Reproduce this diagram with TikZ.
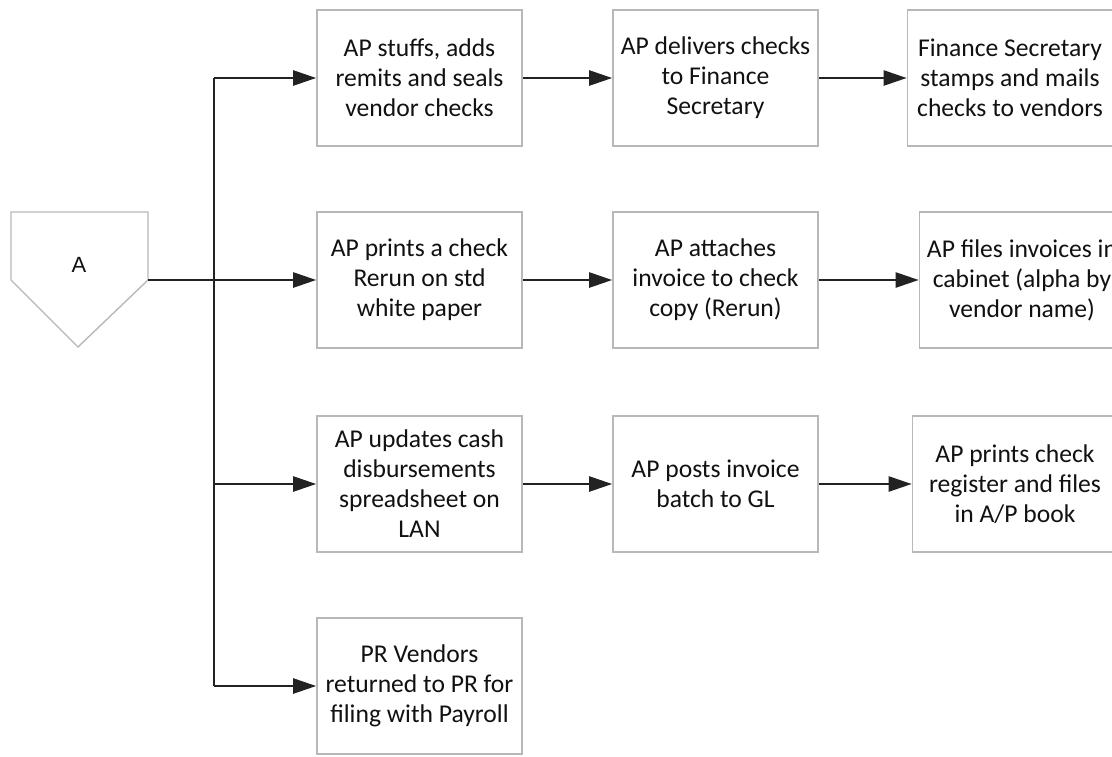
\documentclass[tikz,border=0pt]{standalone}
\usepackage{fontspec}
\setmainfont{Carlito}
\newfontfamily\labelfont{Liberation Sans}
\usetikzlibrary{arrows.meta}
\definecolor{boxline}{HTML}{B8B8B8}
\definecolor{flowline}{HTML}{222222}
\definecolor{ink}{HTML}{111111}
\begin{document}
\begin{tikzpicture}[x=0.5pt,y=-0.5pt,
  stepbox/.style={draw=boxline, line width=0.8pt, fill=white,
    minimum width=102.5pt, minimum height=68pt, inner sep=0pt,
    align=center, text=ink, font=\fontsize{12.8pt}{15pt}\selectfont},
  flow/.style={draw=flowline, line width=1.2pt,
    -{Triangle[length=11.5pt,width=7.5pt]}},
  trunk/.style={draw=flowline, line width=1.2pt},
  connector/.style={draw=boxline, line width=0.7pt, fill=white}]
\useasboundingbox (0,0) rectangle (1112,756);
\clip (0,0) rectangle (1112,756);

% off-page connector
\draw[connector] (11,212) -- (148,212) -- (148,280) -- (78,347) -- (11,280) -- cycle;
\node[text=ink, font=\labelfont\fontsize{11pt}{13pt}\selectfont] (start) at (79,265) {A};
\coordinate (startout) at (148,280);

% process steps
\node[stepbox] (b11) at (419.5,78) {AP stuffs, adds\\remits and seals\\vendor checks};
\node[stepbox] (b12) at (715.5,78) {AP delivers checks\\to Finance\\Secretary};
\node[stepbox] (b13) at (1010,78) {Finance Secretary\\stamps and mails\\checks to vendors};

\node[stepbox] (b21) at (419.5,280) {AP prints a check\\Rerun on std\\white paper};
\node[stepbox] (b22) at (715.5,280) {AP attaches\\invoice to check\\copy (Rerun)};
\node[stepbox] (b23) at (1022,280) {AP files invoices in\\cabinet (alpha by\\vendor name)};

\node[stepbox] (b31) at (419.5,484) {AP updates cash\\disbursements\\spreadsheet on\\LAN};
\node[stepbox] (b32) at (715.5,484) {AP posts invoice\\batch to GL};
\node[stepbox] (b33) at (1015,484) {AP prints check\\register and files\\in A/P book};

\node[stepbox] (b41) at (419.5,686) {PR Vendors\\returned to PR for\\filing with Payroll};

% branching trunk
\coordinate (j1) at (214,78);
\coordinate (j3) at (214,484);
\coordinate (j4) at (214,686);
\draw[trunk] (j1) -- (j4);

\draw[flow] (j1) -- (b11);
\draw[flow] (startout) -- (b21);
\draw[flow] (j3) -- (b31);
\draw[flow] (j4) -- (b41);

\draw[flow] (b11) -- (b12);
\draw[flow] (b12) -- (b13);
\draw[flow] (b21) -- (b22);
\draw[flow] (b22) -- (b23);
\draw[flow] (b31) -- (b32);
\draw[flow] (b32) -- (b33);
\end{tikzpicture}
\end{document}
